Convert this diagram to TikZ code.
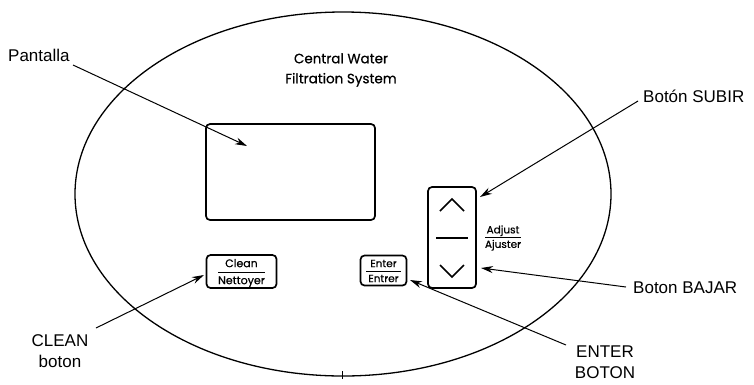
\documentclass[tikz,border=0pt]{standalone}
\usepackage{fontspec}
\setmainfont{Liberation Sans}
\newfontfamily\devfont[FakeBold=0.6]{Poppins}
\usetikzlibrary{arrows.meta}
\begin{document}
\begin{tikzpicture}[x=1pt,y=-1pt,
  lbl/.style={font=\fontsize{17}{21}\selectfont, inner sep=0pt, align=center},
  dev/.style={font=\devfont\fontsize{13.5}{20}\selectfont, inner sep=0pt, align=center},
  small/.style={font=\devfont\fontsize{10.5}{15}\selectfont, inner sep=0pt, align=center},
  btn/.style={draw, line width=1.7pt, rounded corners=4pt},
  ptr/.style={line width=1pt, -{Stealth[length=12pt,width=7pt]}}]
\useasboundingbox (0,0) rectangle (754,384);
% body
\draw[line width=1.3pt] (343,194) ellipse [x radius=268, y radius=182];
\draw[line width=1pt] (342,371) -- (342,379);
% title
\node[dev] (title) at (341,70) {Central Water\\Filtration System};
% screen
\node[btn, minimum width=169pt, minimum height=96pt] (screen) at (290.5,172) {};
% adjust column
\node[btn, minimum width=48pt, minimum height=101pt] (adj) at (452,237.5) {};
\draw[line width=1.7pt] (436,238) -- (468,238);
\draw[line width=1.5pt] (440,211) -- (452,199) -- (464,211);
\draw[line width=1.5pt] (440,265) -- (452,277) -- (464,265);
\node[small, font=\devfont\fontsize{10.5}{14.5}\selectfont] (adjtxt) at (503,238) {Adjust\\Ajuster};
\draw[line width=0.6pt] (485,237.5) -- (521,237.5);
% clean
\node[btn, minimum width=70pt, minimum height=33pt] (clean) at (241.5,271.5) {};
\node[small, font=\devfont\fontsize{11}{17}\selectfont] (cleantxt) at (241.5,273) {Clean\\Nettoyer};
\draw[line width=0.6pt] (218,272.5) -- (265,272.5);
% enter
\node[btn, minimum width=46pt, minimum height=30pt] (enter) at (383.5,270.5) {};
\node[small, font=\devfont\fontsize{10.5}{15}\selectfont] (entertxt) at (383.5,271) {Enter\\Entrer};
\draw[line width=0.6pt] (366,271) -- (401,271);
% labels
\node[lbl, anchor=west] (pant) at (8,55) {Pantalla};
\node[lbl, anchor=west] (subir) at (643,96) {Botón SUBIR};
\node[lbl, anchor=west] (bajar) at (633,288) {Boton BAJAR};
\node[lbl] (cleanl) at (60,351) {CLEAN\\boton};
\node[lbl] (enterl) at (605,362) {ENTER\\BOTON};
% tips
\coordinate (tpant) at (247,146);
\coordinate (tsub) at (480,197);
\coordinate (tbaj) at (481,268);
\coordinate (tcln) at (204,275);
\coordinate (tent) at (410,280);
\draw[ptr] (73,65) -- (tpant);
\draw[ptr] (638,101) -- (tsub);
\draw[ptr] (626,287) -- (tbaj);
\draw[ptr] (96,328) -- (tcln);
\draw[ptr] (566,345) -- (tent);
\end{tikzpicture}
\end{document}
